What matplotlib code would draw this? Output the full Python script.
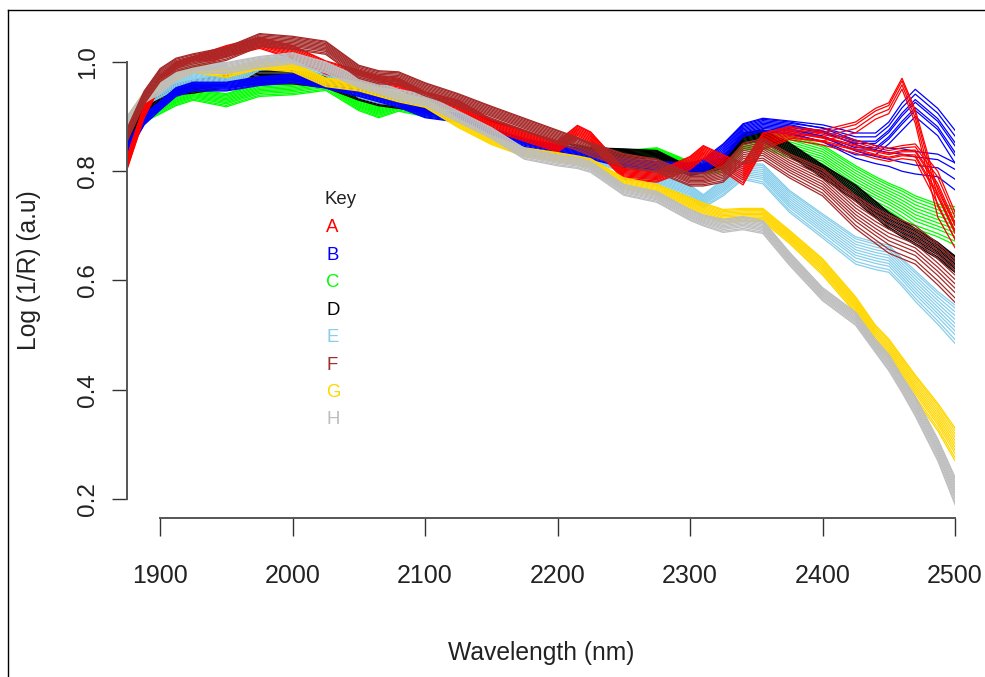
import numpy as np
import matplotlib
matplotlib.use("Agg")
import matplotlib.pyplot as plt
from matplotlib.lines import Line2D

plt.rcParams['font.family'] = ['Liberation Sans', 'DejaVu Sans']

wl = [1875, 1888, 1900, 1912, 1925, 1950, 1975, 2000, 2025, 2050, 2065, 2080,
      2100, 2125, 2150, 2175, 2200, 2215, 2225, 2250, 2275, 2300, 2310, 2325,
      2340, 2355, 2375, 2400, 2425, 2440, 2450, 2460, 2470, 2487, 2500]

# mean spectrum of each group
A = [0.815, 0.91, 0.965, 0.99, 1.0, 1.02, 1.035, 1.018, 0.99, 0.975, 0.965, 0.96,
     0.935, 0.92, 0.885, 0.865, 0.845, 0.872, 0.86, 0.795, 0.79, 0.815, 0.835, 0.815,
     0.795, 0.855, 0.87, 0.86, 0.845, 0.835, 0.83, 0.835, 0.835, 0.77, 0.70]
A_peak_tail = [0.865, 0.88, 0.905, 0.915, 0.96, 0.9, 0.74, 0.68]   # from 2400 nm on
B = [0.84, 0.895, 0.92, 0.945, 0.955, 0.955, 0.965, 0.97, 0.96, 0.945, 0.935, 0.925,
     0.906, 0.898, 0.87, 0.852, 0.84, 0.835, 0.83, 0.815, 0.81, 0.805, 0.81, 0.835,
     0.875, 0.885, 0.88, 0.866, 0.84, 0.83, 0.825, 0.82, 0.815, 0.81, 0.79]
B_peak_tail = [0.87, 0.85, 0.85, 0.87, 0.9, 0.925, 0.89, 0.845]
C = [0.855, 0.9, 0.915, 0.93, 0.94, 0.93, 0.949, 0.952, 0.96, 0.921, 0.908, 0.92,
     0.91, 0.9, 0.875, 0.86, 0.845, 0.84, 0.835, 0.83, 0.835, 0.81, 0.805, 0.81,
     0.85, 0.857, 0.845, 0.826, 0.785, 0.765, 0.753, 0.74, 0.725, 0.71, 0.70]
D = [0.86, 0.915, 0.94, 0.95, 0.955, 0.965, 0.972, 0.972, 0.965, 0.94, 0.93, 0.925,
     0.915, 0.905, 0.885, 0.863, 0.845, 0.84, 0.835, 0.833, 0.83, 0.80, 0.805, 0.815,
     0.86, 0.866, 0.84, 0.80, 0.76, 0.73, 0.71, 0.695, 0.68, 0.655, 0.63]
E = [0.89, 0.93, 0.945, 0.96, 0.972, 0.96, 0.995, 1.0, 0.985, 0.945, 0.935, 0.93,
     0.927, 0.91, 0.88, 0.865, 0.845, 0.835, 0.826, 0.808, 0.784, 0.763, 0.745, 0.77,
     0.80, 0.795, 0.745, 0.70, 0.655, 0.645, 0.64, 0.615, 0.59, 0.55, 0.52]
F = [0.866, 0.935, 0.976, 0.995, 1.003, 1.015, 1.04, 1.035, 1.026, 0.982, 0.972, 0.97,
     0.95, 0.93, 0.907, 0.885, 0.863, 0.85, 0.84, 0.82, 0.81, 0.785, 0.785, 0.795,
     0.833, 0.84, 0.81, 0.78, 0.725, 0.70, 0.685, 0.675, 0.665, 0.63, 0.60]
G = [0.89, 0.935, 0.958, 0.975, 0.989, 0.98, 0.995, 0.99, 0.963, 0.955, 0.945, 0.935,
     0.925, 0.888, 0.857, 0.835, 0.826, 0.82, 0.815, 0.778, 0.766, 0.742, 0.73, 0.718,
     0.72, 0.72, 0.68, 0.625, 0.555, 0.50, 0.475, 0.44, 0.405, 0.35, 0.30]
H = [0.89, 0.935, 0.952, 0.975, 0.99, 0.989, 1.0, 1.007, 0.99, 0.963, 0.952, 0.94,
     0.93, 0.90, 0.87, 0.832, 0.82, 0.815, 0.808, 0.766, 0.753, 0.72, 0.71, 0.70,
     0.705, 0.698, 0.64, 0.575, 0.53, 0.48, 0.45, 0.41, 0.37, 0.29, 0.215]

# half width of each group's band of replicate spectra
A_sd = [0.012, 0.012, 0.01, 0.01, 0.01, 0.01, 0.01, 0.012, 0.012, 0.01, 0.01, 0.01,
        0.01, 0.01, 0.01, 0.01, 0.01, 0.012, 0.012, 0.01, 0.01, 0.012, 0.012, 0.015,
        0.02, 0.015, 0.012, 0.012, 0.012, 0.012, 0.012, 0.012, 0.015, 0.03, 0.025]
B_sd = [0.01, 0.01, 0.008, 0.008, 0.008, 0.008, 0.008, 0.008, 0.008, 0.008, 0.008, 0.008,
        0.008, 0.008, 0.008, 0.008, 0.008, 0.008, 0.008, 0.008, 0.008, 0.01, 0.012, 0.015,
        0.012, 0.012, 0.012, 0.015, 0.02, 0.02, 0.02, 0.025, 0.025, 0.025, 0.03]
C_sd = [0.01, 0.01, 0.01, 0.01, 0.01, 0.012, 0.012, 0.012, 0.012, 0.01, 0.01, 0.01,
        0.01, 0.01, 0.008, 0.008, 0.008, 0.008, 0.008, 0.008, 0.008, 0.008, 0.01, 0.012,
        0.012, 0.015, 0.02, 0.022, 0.025, 0.025, 0.025, 0.028, 0.03, 0.03, 0.035]
D_sd = [0.01, 0.01, 0.01, 0.01, 0.012, 0.012, 0.012, 0.012, 0.012, 0.01, 0.01, 0.01,
        0.008, 0.008, 0.008, 0.008, 0.008, 0.008, 0.008, 0.008, 0.008, 0.008, 0.008, 0.01,
        0.01, 0.01, 0.012, 0.012, 0.015, 0.015, 0.015, 0.015, 0.015, 0.015, 0.015]
E_sd = [0.01, 0.01, 0.01, 0.01, 0.01, 0.01, 0.01, 0.01, 0.01, 0.01, 0.01, 0.01,
        0.008, 0.008, 0.008, 0.008, 0.008, 0.008, 0.008, 0.01, 0.01, 0.012, 0.012, 0.015,
        0.015, 0.018, 0.02, 0.022, 0.025, 0.025, 0.025, 0.025, 0.028, 0.03, 0.035]
F_sd = [0.012, 0.012, 0.012, 0.012, 0.012, 0.012, 0.012, 0.012, 0.012, 0.012, 0.012, 0.012,
        0.012, 0.012, 0.012, 0.012, 0.012, 0.012, 0.012, 0.012, 0.012, 0.012, 0.012, 0.015,
        0.018, 0.02, 0.022, 0.025, 0.03, 0.032, 0.035, 0.035, 0.035, 0.038, 0.04]
G_sd = [0.01, 0.01, 0.008, 0.008, 0.008, 0.008, 0.008, 0.008, 0.008, 0.008, 0.008, 0.008,
        0.008, 0.008, 0.008, 0.008, 0.008, 0.008, 0.008, 0.01, 0.01, 0.01, 0.012, 0.012,
        0.012, 0.012, 0.012, 0.015, 0.015, 0.018, 0.018, 0.02, 0.022, 0.025, 0.03]
H_sd = [0.01, 0.01, 0.01, 0.01, 0.01, 0.01, 0.01, 0.01, 0.01, 0.01, 0.01, 0.01,
        0.01, 0.01, 0.01, 0.01, 0.01, 0.01, 0.01, 0.01, 0.01, 0.01, 0.01, 0.012,
        0.012, 0.012, 0.012, 0.012, 0.012, 0.012, 0.015, 0.015, 0.018, 0.02, 0.025]

groups = ['A', 'B', 'C', 'D', 'E', 'F', 'G', 'H']
colors = ['red', 'blue', '#00ff00', 'black', 'skyblue', 'brown', 'gold', '#bebebe']
means = [A, B, C, D, E, F, G, H]
spreads = [A_sd, B_sd, C_sd, D_sd, E_sd, F_sd, G_sd, H_sd]
# position of each replicate inside its group's band (-1 .. 1)
replicate_pos = [-1.0, -0.8, -0.55, -0.35, -0.15, 0.05, 0.25, 0.45, 0.65, 0.85, 1.0]
# replicates of A and B that follow the peaked tail instead
peak_reps = {'A': [1, 4, 7, 9], 'B': [0, 2, 3, 5, 6, 8, 10]}
peak_tails = {'A': A_peak_tail, 'B': B_peak_tail}
tail_start = 27
# drawing order of the groups (later ones sit on top)
draw_order = ['C', 'D', 'E', 'B', 'A', 'G', 'H', 'F']

fig = plt.figure(figsize=(9.85, 6.77), dpi=100)
ax = fig.add_axes([127 / 985, 1 - 518 / 677, (955 - 127) / 985, (518 - 23) / 677])

wl_arr = np.array(wl)
for g in draw_order:
    i = groups.index(g)
    for r, pos in enumerate(replicate_pos):
        y = np.array(means[i], dtype=float)
        if g in peak_reps and r in peak_reps[g]:
            y[tail_start:] = peak_tails[g]
        y = y + pos * np.array(spreads[i])
        ax.plot(wl_arr, y, color=colors[i], lw=0.9)

ax.set_xlim(1875, 2500)
ax.set_ylim(0.1652, 1.0714)
ax.set_xticks([1900, 2000, 2100, 2200, 2300, 2400, 2500])
ax.set_yticks([0.2, 0.4, 0.6, 0.8, 1.0])
ax.set_yticklabels(['0.2', '0.4', '0.6', '0.8', '1.0'], rotation=90, va='center')

for s in ['top', 'right']:
    ax.spines[s].set_visible(False)
ax.spines['left'].set_bounds(0.2, 1.0)
ax.spines['bottom'].set_bounds(1900, 2500)
for s in ['left', 'bottom']:
    ax.spines[s].set_color('#555555')
    ax.spines[s].set_linewidth(1.4)

ax.tick_params(axis='x', length=13, width=1.0, color='#333333', pad=20,
               labelsize=18, labelcolor='#222222')
ax.tick_params(axis='y', length=11, width=1.0, color='#333333', pad=9,
               labelsize=17.5, labelcolor='#222222')

ax.set_xlabel('Wavelength (nm)', fontsize=17.7, color='#222222', labelpad=38)
ax.set_ylabel('Log (1/R) (a.u)', fontsize=17.7, color='#222222', labelpad=26)

# key
fig.text(325 / 985, 1 - 200 / 677, 'Key', fontsize=13.4, color='#222222', va='center')
for i, (g, c) in enumerate(zip(groups, colors)):
    fig.text(326 / 985, 1 - (228 + i * 27.4) / 677, g, fontsize=13.4, color=c, va='center')

# frame around the figure (top and left edges visible)
fig.add_artist(Line2D([8 / 985, 1.0], [1 - 10 / 677, 1 - 10 / 677], color='black', lw=1.0))
fig.add_artist(Line2D([8 / 985, 8 / 985], [0.0, 1 - 10 / 677], color='black', lw=1.0))

fig.savefig('out.png', dpi=100)
